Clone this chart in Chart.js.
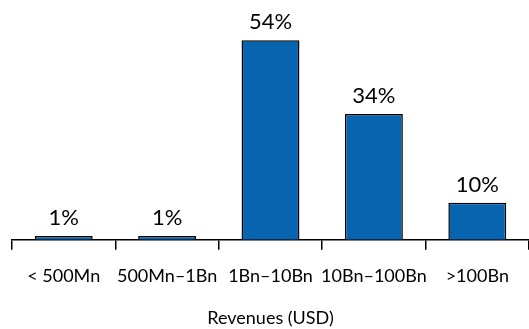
<!DOCTYPE html>
<html>
<head>
<meta charset="utf-8">
<script src="https://cdn.jsdelivr.net/npm/chart.js@4"></script>
<style>
  html, body { margin: 0; padding: 0; background: #fff; }
  #wrap { width: 529px; height: 329px; }
</style>
</head>
<body>
<div id="wrap"><canvas id="myChart"></canvas></div>
<script>
Chart.defaults.font.family = "Lato, 'Open Sans', sans-serif";
Chart.defaults.color = '#000';

// revenue bands and share of companies (%)
const bands = ['< 500Mn', '500Mn\u20131Bn', '1Bn\u201310Bn', '10Bn\u2013100Bn', '>100Bn'];
const shares = [1, 1, 54, 34, 10];

// write "NN%" above each bar
const valueLabels = {
    id: 'valueLabels',
    afterDatasetsDraw(chart) {
        const ctx = chart.ctx;
        const meta = chart.getDatasetMeta(0);
        ctx.save();
        ctx.font = "22px Lato, 'Open Sans', sans-serif";
        ctx.fillStyle = '#000';
        ctx.textAlign = 'center';
        ctx.textBaseline = 'alphabetic';
        meta.data.forEach((bar, i) => {
            ctx.fillText(shares[i] + '%', bar.x, bar.y - 11);
        });
        ctx.restore();
    }
};

var ctx = document.getElementById('myChart').getContext('2d');
var myChart = new Chart(ctx, {
    type: 'bar',
    data: {
        labels: bands,
        datasets: [{
            data: shares,
            backgroundColor: '#0765B0',
            borderColor: '#000',
            borderWidth: 1.5,
            borderSkipped: 'bottom',
            categoryPercentage: 1,
            barPercentage: 0.56
        }]
    },
    options: {
        responsive: true,
        maintainAspectRatio: false,
        animation: false,
        layout: { padding: { left: 12, right: 0, top: 18, bottom: 0 } },
        plugins: {
            legend: { display: false },
            tooltip: { enabled: false }
        },
        scales: {
            y: {
                display: false,
                min: 0,
                max: 60
            },
            x: {
                offset: true,
                border: { display: true, color: '#000', width: 1.5 },
                grid: {
                    offset: true,
                    drawOnChartArea: false,
                    drawTicks: true,
                    tickLength: 10,
                    color: '#000',
                    lineWidth: 1.5
                },
                ticks: {
                    color: '#000',
                    font: { size: 18 },
                    padding: 16,
                    maxRotation: 0,
                    autoSkip: false
                },
                title: {
                    display: true,
                    text: 'Revenues (USD)',
                    color: '#000',
                    font: { size: 18 },
                    padding: { top: 4, bottom: 0 }
                }
            }
        }
    },
    plugins: [valueLabels]
});
</script>
</body>
</html>
